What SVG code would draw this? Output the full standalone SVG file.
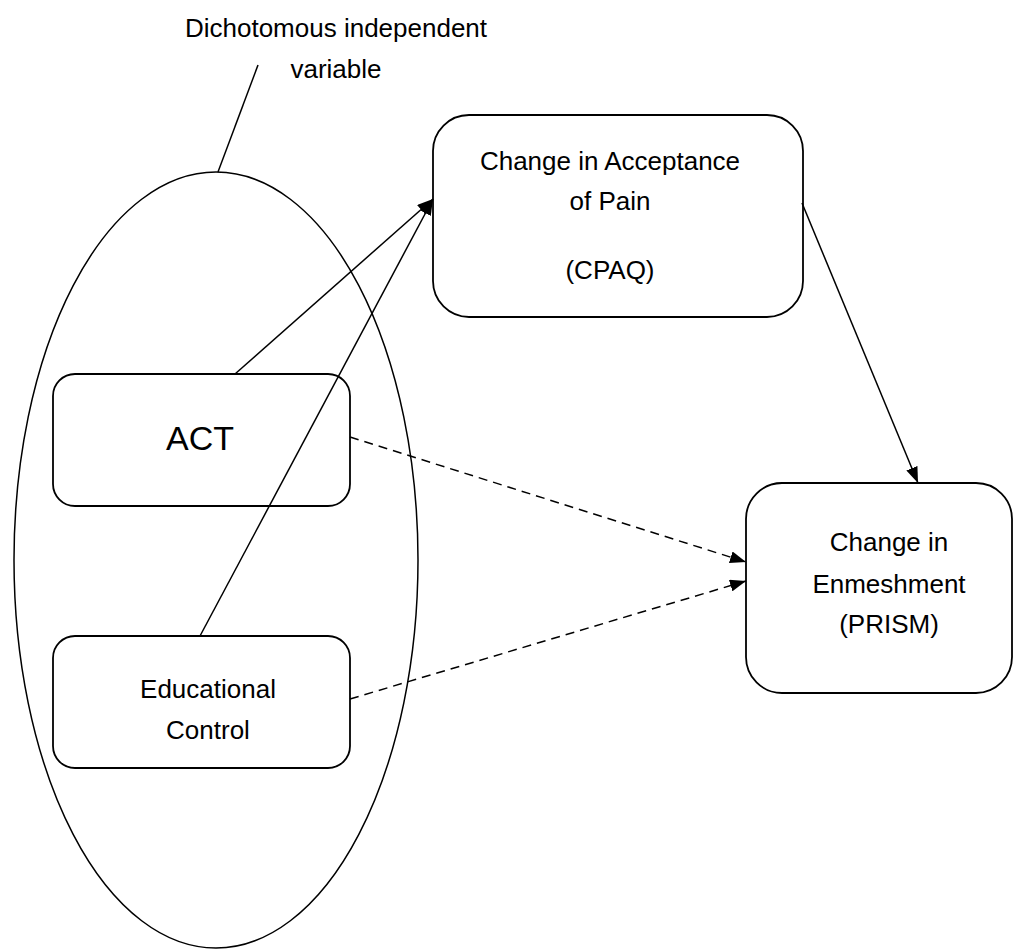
<svg xmlns="http://www.w3.org/2000/svg" width="1013" height="951" viewBox="0 0 1013 951">
<style>
text{font-family:"Liberation Sans",Arial,sans-serif;fill:#000;text-anchor:middle}
.box{fill:#fff;stroke:#000;stroke-width:1.8}
.ln{stroke:#000;stroke-width:1.5;fill:none}
.dash{stroke-dasharray:9 6}
.t{font-size:26px}
</style>
<defs>
<marker id="ah" viewBox="0 0 16 12" refX="16" refY="6" markerWidth="16" markerHeight="12" markerUnits="userSpaceOnUse" orient="auto">
<path d="M0,0 L16,6 L0,12 z" fill="#000"/>
</marker>
</defs>
<rect width="1013" height="951" fill="#fff"/>
<g id="group-ellipse">
<ellipse cx="216" cy="560" rx="202" ry="388" class="ln"/>
<line x1="258" y1="65" x2="218" y2="172" class="ln"/>
<text class="t" x="336" y="37">Dichotomous independent</text>
<text class="t" x="336" y="78">variable</text>
</g>
<g id="node-act">
<rect x="53" y="374" width="297" height="132" rx="22" class="box"/>
<text x="200" y="450" style="font-size:34px">ACT</text>
</g>
<g id="node-edu">
<rect x="53" y="636" width="297" height="132" rx="22" class="box"/>
<text class="t" x="208" y="698">Educational</text>
<text class="t" x="208" y="739">Control</text>
</g>
<g id="node-cpaq">
<rect x="433" y="115" width="370" height="202" rx="36" class="box"/>
<text class="t" x="610" y="170">Change in Acceptance</text>
<text class="t" x="610" y="210">of Pain</text>
<text class="t" x="610" y="279">(CPAQ)</text>
</g>
<g id="node-prism">
<rect x="746" y="483" width="266" height="210" rx="36" class="box"/>
<text class="t" x="889" y="551">Change in</text>
<text class="t" x="889" y="593">Enmeshment</text>
<text class="t" x="889" y="633">(PRISM)</text>
</g>
<g id="connectors">
<line x1="235" y1="374" x2="433" y2="199" class="ln" marker-end="url(#ah)"/>
<line x1="200" y1="636" x2="433" y2="199" class="ln" marker-end="url(#ah)"/>
<line x1="350" y1="437" x2="746" y2="562" class="ln dash" marker-end="url(#ah)"/>
<line x1="350" y1="699" x2="746" y2="581" class="ln dash" marker-end="url(#ah)"/>
<line x1="802" y1="203" x2="918" y2="483" class="ln" marker-end="url(#ah)"/>
</g>
</svg>
